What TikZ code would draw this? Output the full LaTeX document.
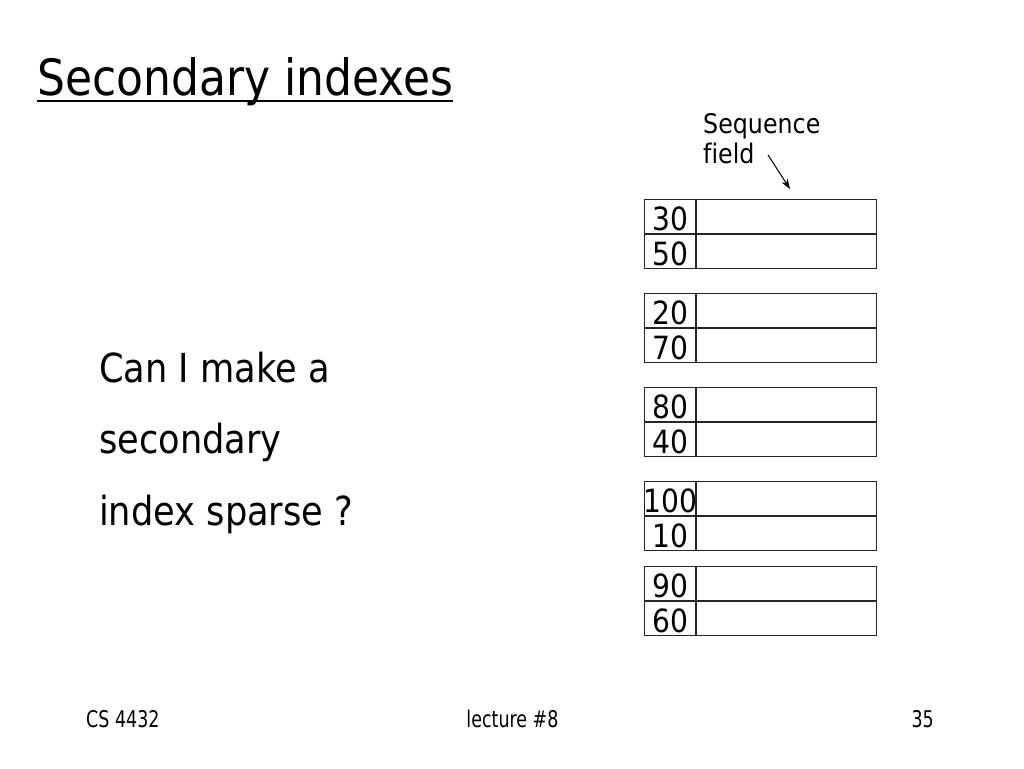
\documentclass[tikz,border=0pt]{standalone}
\usepackage{fontspec}
\setmainfont[FakeStretch=0.88,Ligatures=NoCommon]{DejaVu Sans}
\newfontfamily\footfont[FakeStretch=0.76]{DejaVu Sans}
\usetikzlibrary{arrows.meta}
\begin{document}
\begin{tikzpicture}[x=1pt,y=-1pt,
  keycell/.style={draw=black!85,line width=1.1pt,rectangle,inner sep=0pt,
    minimum width=51pt,minimum height=34pt,anchor=north west,
    text height=28pt,text depth=0pt,font=\fontsize{32}{34}\selectfont},
  ptrcell/.style={draw=black!85,line width=1.1pt,rectangle,inner sep=0pt,
    minimum width=180pt,minimum height=34pt,anchor=north west},
  plain/.style={inner sep=0pt,anchor=base west}]
\useasboundingbox (0,0) rectangle (1024,768);
\fill[white] (0,0) rectangle (1024,768);

% title
\node[plain,font=\fontsize{50}{56}\selectfont] (title) at (37,95) {Secondary indexes};
\draw[line width=2.4pt] ([yshift=-6pt]title.base west) -- ([yshift=-6pt]title.base east);

% body text (base anchor = last line)
\node[plain,align=left,font=\fontsize{40}{71.5}\selectfont] (q) at (99,525)
  {Can I make a\\secondary\\index sparse ?};

% sequence field label (base anchor = last line)
\node[plain,align=left,font=\fontsize{27}{30}\selectfont] (seq) at (703,163)
  {Sequence\\field};
\coordinate (as) at (768,155);
\coordinate (ae) at (790,189);
\draw[line width=1pt,-{Stealth[length=10pt,width=7pt]}] (as) -- (ae);

% blocks
\foreach \name/\top/\va/\vb in {b1/199/30/50, b2/293/20/70, b3/387/80/40, b4/481/100/10, b5/566/90/60}{
  \node[keycell] (\name ka) at (644,\top) {\makebox[0pt]{\va}};
  \node[ptrcell] (\name pa) at (\name ka.north east) {};
  \node[keycell] (\name kb) at (\name ka.south west) {\makebox[0pt]{\vb}};
  \node[ptrcell] (\name pb) at (\name kb.north east) {};
}

% footer
\node[plain,font=\footfont\fontsize{23}{26}\selectfont] (f1) at (86,727) {CS 4432};
\node[inner sep=0pt,anchor=base,font=\footfont\fontsize{23}{26}\selectfont] (f2) at (512.5,727) {lecture \#8};
\node[inner sep=0pt,anchor=base east,font=\footfont\fontsize{23}{26}\selectfont] (f3) at (934,727) {35};
\end{tikzpicture}
\end{document}
